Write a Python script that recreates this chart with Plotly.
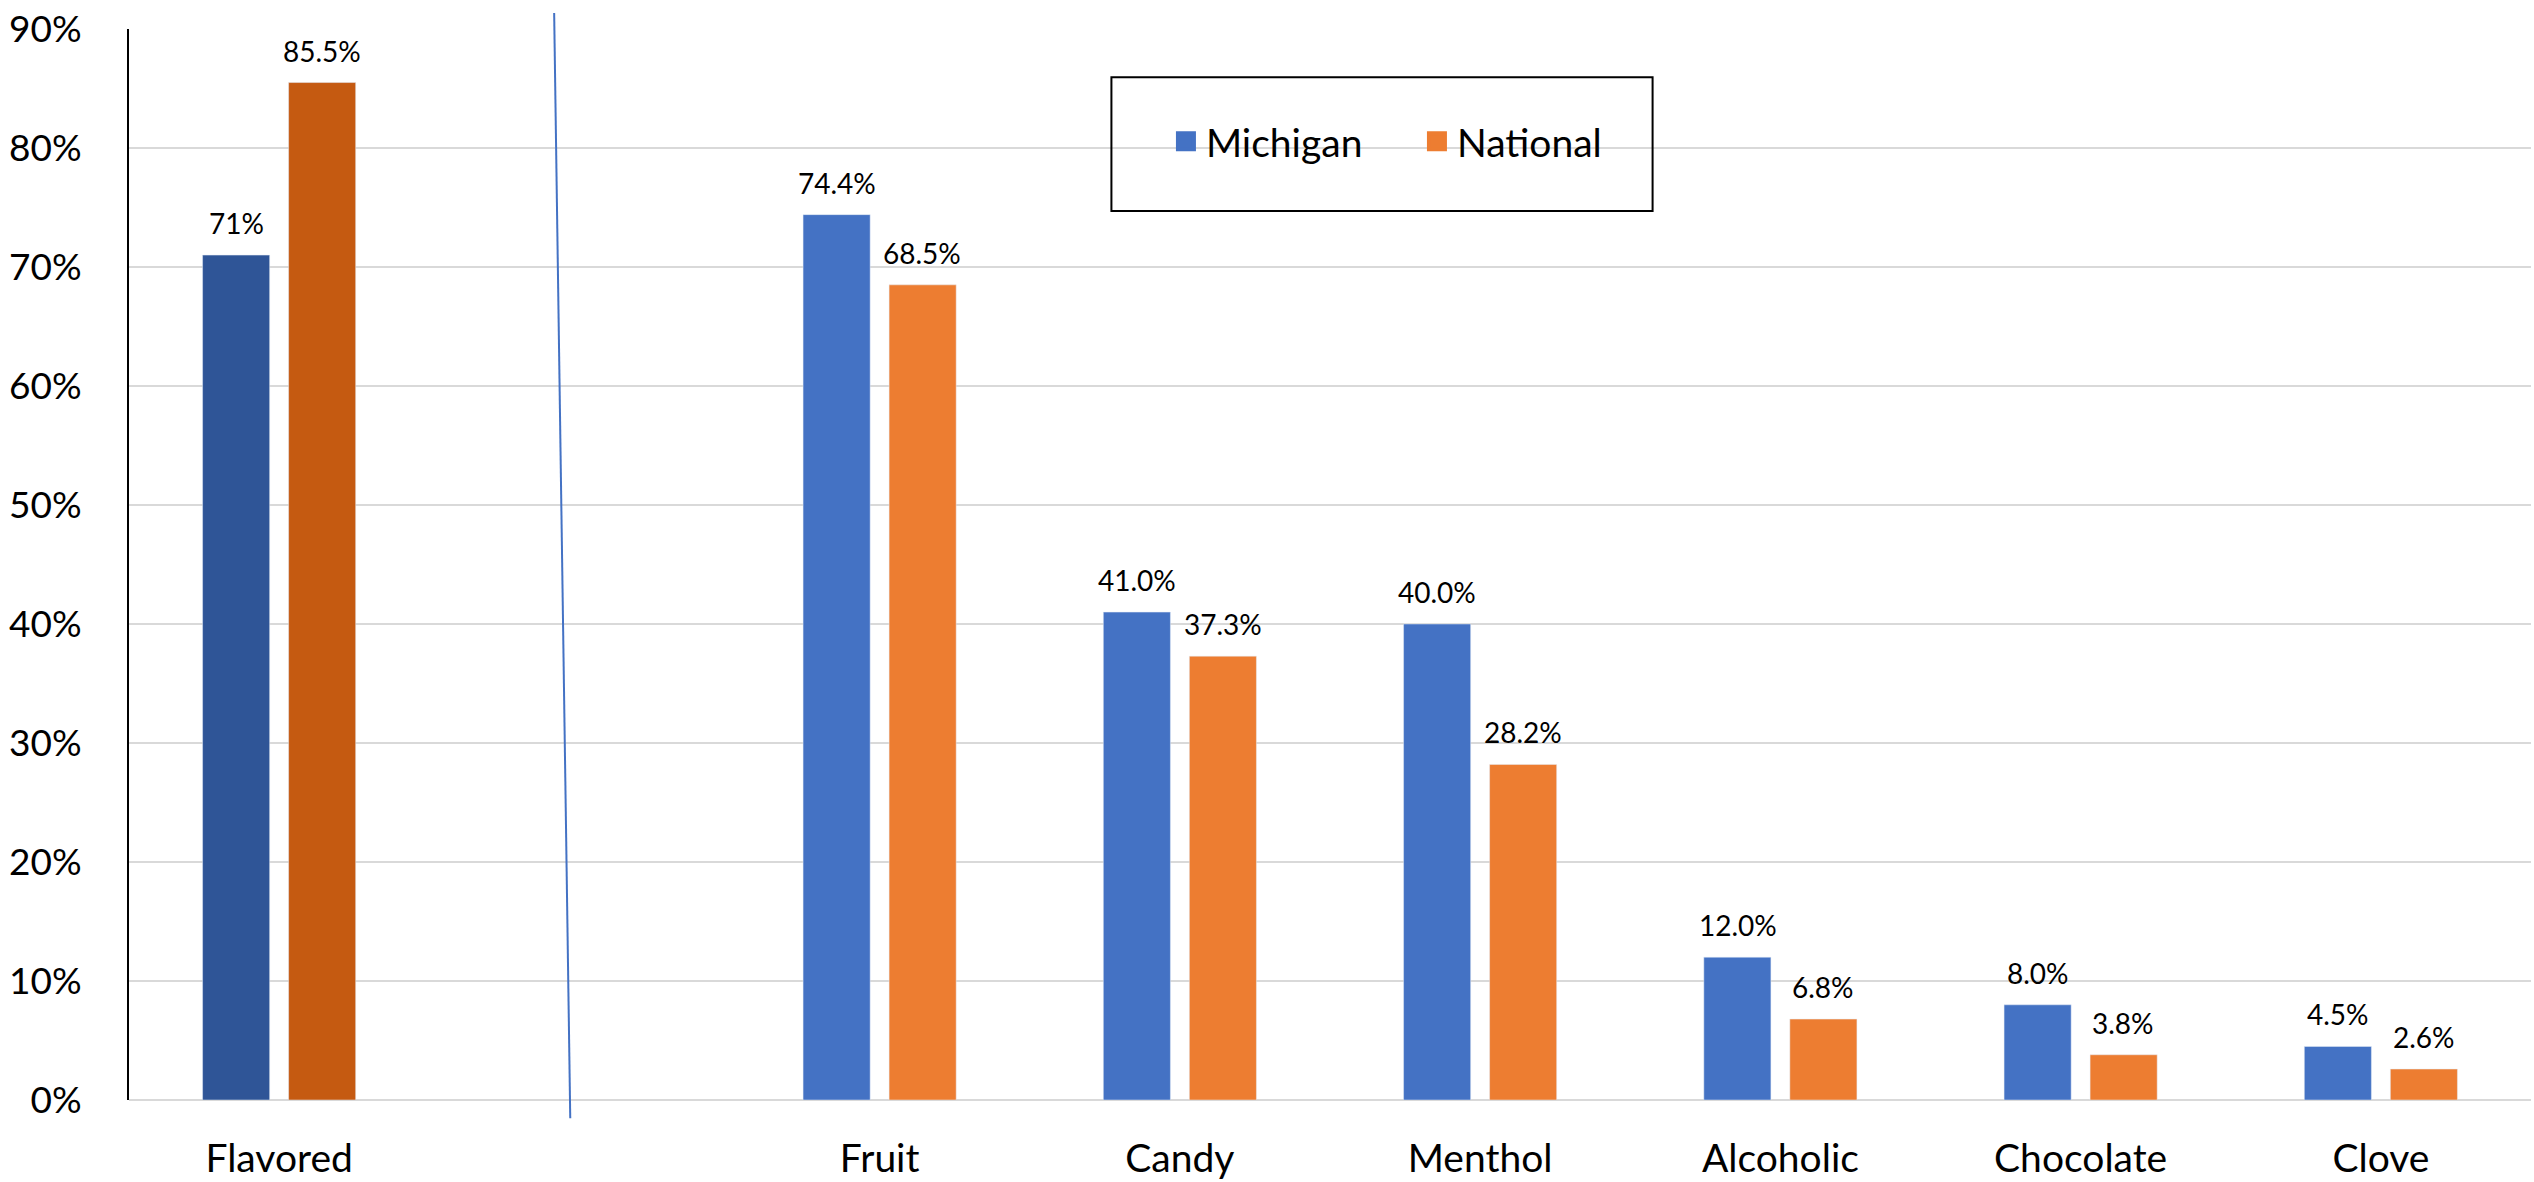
import plotly.graph_objects as go

categories = ["Flavored", " ", "Fruit", "Candy", "Menthol", "Alcoholic", "Chocolate", "Clove"]
michigan = [71.0, None, 74.4, 41.0, 40.0, 12.0, 8.0, 4.5]
national = [85.5, None, 68.5, 37.3, 28.2, 6.8, 3.8, 2.6]
michigan_labels = ["71%", "", "74.4%", "41.0%", "40.0%", "12.0%", "8.0%", "4.5%"]
national_labels = ["85.5%", "", "68.5%", "37.3%", "28.2%", "6.8%", "3.8%", "2.6%"]
y_ticks = [0, 10, 20, 30, 40, 50, 60, 70, 80, 90]
y_tick_labels = ["0%", "10%", "20%", "30%", "40%", "50%", "60%", "70%", "80%", "90%"]

BLUE, ORANGE = "#4472C4", "#ED7D31"
BLUE_DARK, ORANGE_DARK = "#2F5597", "#C55A11"
FONT = "Lato"

fig = go.Figure()
# Flavored (highlighted) bars
fig.add_trace(go.Bar(x=categories[:1], y=michigan[:1], marker_color=BLUE_DARK,
                     offsetgroup="mi", showlegend=False, hoverinfo="skip"))
fig.add_trace(go.Bar(x=categories[:1], y=national[:1], marker_color=ORANGE_DARK,
                     offsetgroup="na", showlegend=False, hoverinfo="skip"))
# Remaining categories
fig.add_trace(go.Bar(x=categories[1:], y=michigan[1:], name="Michigan", marker_color=BLUE,
                     offsetgroup="mi", showlegend=False))
fig.add_trace(go.Bar(x=categories[1:], y=national[1:], name="National", marker_color=ORANGE,
                     offsetgroup="na", showlegend=False))
# Legend entries (larger square swatches)
for name, col in [("Michigan", BLUE), ("National", ORANGE)]:
    fig.add_trace(go.Scatter(x=[None], y=[None], mode="markers", name=name,
                             marker=dict(symbol="square", size=16, color=col,
                                         line=dict(color=col, width=4))))

# Data labels
for cat, v, t in zip(categories, michigan, michigan_labels):
    if v is not None:
        fig.add_annotation(x=cat, y=v, text=t, showarrow=False, yanchor="bottom",
                           xshift=-42.8, yshift=13, font=dict(family=FONT, size=28, color="#000"))
for cat, v, t in zip(categories, national, national_labels):
    if v is not None:
        fig.add_annotation(x=cat, y=v, text=t, showarrow=False, yanchor="bottom",
                           xshift=42.8, yshift=13, font=dict(family=FONT, size=28, color="#000"))

# Legend frame
fig.add_shape(type="rect", xref="paper", yref="paper", x0=0.409, x1=0.6343, y0=0.830, y1=0.955,
              line=dict(color="#000", width=2), fillcolor="rgba(0,0,0,0)", layer="above")
# Diagonal separator line
fig.add_shape(type="line", xref="paper", yref="paper", x0=0.177, y0=1.015, x1=0.1837, y1=-0.017,
              line=dict(color=BLUE, width=2), layer="above")

fig.update_layout(
    width=2534, height=1182,
    margin=dict(l=129, r=3, t=29, b=82),
    paper_bgcolor="white", plot_bgcolor="white",
    barmode="group", bargap=0.427, bargroupgap=0.22,
    font=dict(family=FONT, color="#000"),
    legend=dict(orientation="h", x=0.4317, y=0.895, xanchor="left", yanchor="middle",
                bgcolor="rgba(0,0,0,0)", borderwidth=0, font=dict(size=39, family=FONT),
                entrywidth=206, entrywidthmode="pixels"),
)
fig.update_xaxes(categoryorder="array", categoryarray=categories, showline=False, ticks="",
                 tickfont=dict(size=39, family=FONT, color="#000"), ticklabelstandoff=32,
                 showgrid=False)
fig.update_yaxes(range=[0, 90], tickmode="array", tickvals=y_ticks, ticktext=y_tick_labels,
                 showline=True, linecolor="#000",
                 linewidth=2, gridcolor="#D9D9D9", gridwidth=2, zeroline=True, zerolinecolor="#D9D9D9",
                 zerolinewidth=2, tickfont=dict(size=37, family=FONT, color="#000"),
                 ticklabelstandoff=38)

fig.write_html("out.html", config={"displayModeBar": False},
               post_script="document.body.style.margin='0';document.body.style.overflow='hidden';")
